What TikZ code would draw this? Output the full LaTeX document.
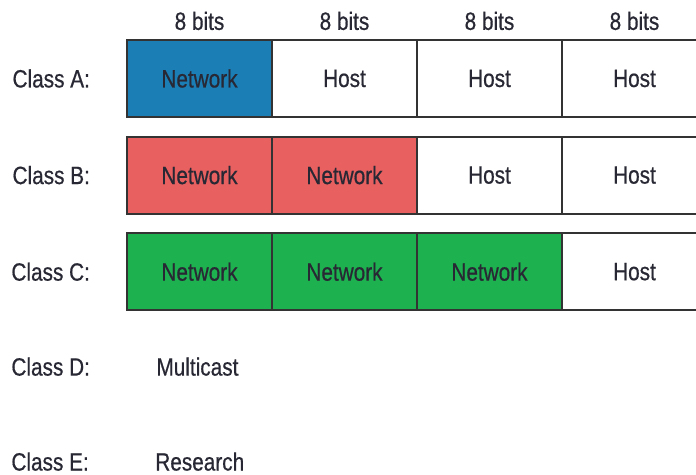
\documentclass[tikz,border=0pt]{standalone}
\usepackage{fontspec}
\setmainfont{Liberation Sans}[FakeStretch=0.83, FakeBold=0.6]
\usetikzlibrary{positioning}
\definecolor{clsblue}{RGB}{27,127,182}
\definecolor{clsred}{RGB}{232,96,96}
\definecolor{clsgrn}{RGB}{30,177,80}
\definecolor{cellline}{RGB}{51,51,51}
\definecolor{txtdark}{RGB}{40,40,52}
\tikzset{
  cellbox/.style  = {draw=cellline, line width=1.4pt, outer sep=0pt,
                     minimum width=3.625cm, minimum height=1.925cm,
                     align=center, text=txtdark},
  netcell/.style  = {cellbox, fill=#1},
  hostcell/.style = {cellbox, fill=white},
  clslabel/.style = {inner sep=0pt, text=txtdark},
  bitlabel/.style = {inner sep=0pt, text=txtdark},
}

\begin{document}
\begin{tikzpicture}[font=\fontsize{17.8}{19}\selectfont]
    \useasboundingbox (0,0) rectangle (17.4,-11.85);
    % Class A
    \node[netcell=clsblue, anchor=north west] (a1) at (3.175,-1.0) {Network};
    \node[hostcell, right=0pt of a1] (a2) {Host};
    \node[hostcell, right=0pt of a2] (a3) {Host};
    \node[hostcell, right=0pt of a3] (a4) {Host};
    % Class B
    \node[netcell=clsred, below=0.49cm of a1] (b1) {Network};
    \node[netcell=clsred, right=0pt of b1] (b2) {Network};
    \node[hostcell, right=0pt of b2] (b3) {Host};
    \node[hostcell, right=0pt of b3] (b4) {Host};
    % Class C
    \node[netcell=clsgrn, below=0.49cm of b1] (c1) {Network};
    \node[netcell=clsgrn, right=0pt of c1] (c2) {Network};
    \node[netcell=clsgrn, right=0pt of c2] (c3) {Network};
    \node[hostcell, right=0pt of c3] (c4) {Host};
    % Above: octet widths
    \foreach \i in {1,...,4}
      \node[bitlabel, above=0.24cm of a\i] (bits\i) {8 bits};
    % Left: class names
    \node[clslabel, left=0.92cm of a1] (clsa) {Class A:};
    \node[clslabel, left=0.92cm of b1] (clsb) {Class B:};
    \node[clslabel, left=0.92cm of c1] (clsc) {Class C:};
    \node[clslabel, below=1.9cm of clsc.south west, anchor=north west] (clsd) {Class D:};
    \node[clslabel, below=1.9cm of clsd.south west, anchor=north west] (clse) {Class E:};
    \node[clslabel, right=1.65cm of clsd] (mcast) {Multicast};
    \node[clslabel, right=1.65cm of clse] (rsrch) {Research};
  \end{tikzpicture}
\end{document}
